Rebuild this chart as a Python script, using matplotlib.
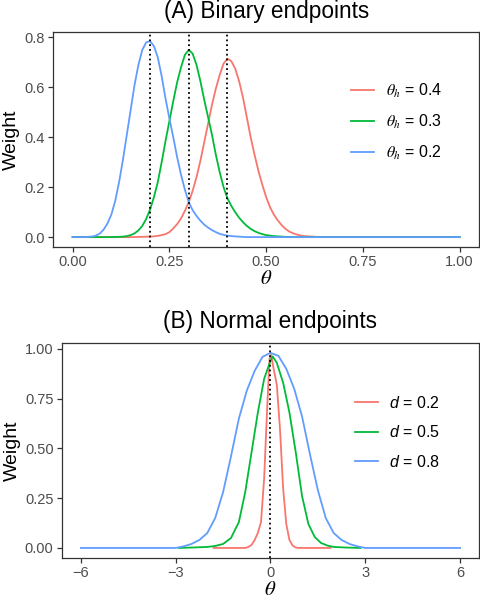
import matplotlib
matplotlib.use("Agg")
import matplotlib.pyplot as plt
import numpy as np

plt.rcParams['font.family'] = ['Liberation Sans', 'DejaVu Sans']
plt.rcParams['mathtext.fontset'] = 'custom'
plt.rcParams['mathtext.rm'] = 'Liberation Sans'
plt.rcParams['mathtext.it'] = 'Liberation Sans:italic'
plt.rcParams['mathtext.bf'] = 'Liberation Sans:bold'

# ---------------- Panel A data (binary endpoints) ----------------
theta_a = list(np.round(np.arange(0, 71) * 0.01, 2)) + [1.0]
w_a_04 = ([0] * 17 +
          [0.001, 0.001, 0.002, 0.002, 0.003, 0.005, 0.008, 0.012, 0.02, 0.035,
           0.052, 0.075, 0.105, 0.14, 0.185, 0.24, 0.305, 0.38, 0.455, 0.53,
           0.595, 0.65, 0.695, 0.715, 0.705, 0.675, 0.625, 0.56, 0.48, 0.40,
           0.33, 0.265, 0.21, 0.16, 0.12, 0.09, 0.067, 0.048, 0.033, 0.022,
           0.015, 0.01, 0.006, 0.004, 0.003, 0.002, 0.001, 0.001] +
          [0] * 6 + [0])
w_a_03 = ([0] * 11 +
          [0.001, 0.001, 0.002, 0.004, 0.008, 0.015, 0.027, 0.045, 0.073, 0.11,
           0.16, 0.22, 0.30, 0.385, 0.465, 0.545, 0.62, 0.68, 0.73, 0.75,
           0.735, 0.69, 0.625, 0.55, 0.48, 0.41, 0.33, 0.26, 0.20, 0.155,
           0.125, 0.10, 0.078, 0.06, 0.045, 0.033, 0.024, 0.017, 0.012, 0.008,
           0.006, 0.004, 0.003, 0.002, 0.001, 0.001] +
          [0] * 14 + [0])
w_a_02 = ([0, 0, 0, 0,
           0.001, 0.002, 0.006, 0.014, 0.03, 0.055, 0.09, 0.145, 0.22, 0.31,
           0.41, 0.51, 0.61, 0.69, 0.75, 0.78, 0.785, 0.765, 0.72, 0.645,
           0.555, 0.475, 0.40, 0.32, 0.25, 0.19, 0.14, 0.108, 0.085, 0.066,
           0.05, 0.038, 0.028, 0.02, 0.013, 0.009, 0.006, 0.004, 0.003, 0.002,
           0.001] +
          [0] * 26 + [0])
labels_a = [r'$\theta_h$ = 0.4', r'$\theta_h$ = 0.3', r'$\theta_h$ = 0.2']
vlines_a = [0.2, 0.3, 0.4]
xticks_a = [0.00, 0.25, 0.50, 0.75, 1.00]
xticklabels_a = ['0.00', '0.25', '0.50', '0.75', '1.00']
yticks_a = [0.0, 0.2, 0.4, 0.6, 0.8]
yticklabels_a = ['0.0', '0.2', '0.4', '0.6', '0.8']

# ---------------- Panel B data (normal endpoints) ----------------
x_b_02 = [-1.8, -0.8, -0.7, -0.6, -0.5, -0.4, -0.3, -0.2, -0.1, -0.03, 0.02, 0.1, 0.2,
          0.3, 0.4, 0.5, 0.6, 0.7, 0.8, 0.9, 1.9]
w_b_02 = [0, 0, 0.005, 0.015, 0.04, 0.075, 0.13, 0.35, 0.72, 0.95, 0.97, 0.9, 0.82,
          0.6, 0.3, 0.12, 0.04, 0.012, 0.002, 0, 0]
x_b_05 = [-2.9, -2.5, -2.0, -1.75, -1.5, -1.25, -1.0, -0.8, -0.6, -0.4, -0.2, 0.0, 0.07,
          0.2, 0.4, 0.6, 0.8, 1.0, 1.2, 1.4, 1.6, 1.8, 2.0, 2.4, 2.85]
w_b_05 = [0, 0.002, 0.005, 0.01, 0.02, 0.05, 0.13, 0.28, 0.48, 0.68, 0.85, 0.94, 0.962,
          0.93, 0.83, 0.68, 0.48, 0.26, 0.12, 0.055, 0.025, 0.012, 0.005, 0.002, 0]
x_b_08 = [-6, -3.0, -2.9, -2.75, -2.5, -2.25, -2.0, -1.75, -1.5, -1.25, -1.0, -0.75, -0.5,
          -0.25, 0, 0.25, 0.5, 0.75, 1.0, 1.25, 1.5, 1.75, 2.0, 2.25, 2.5, 2.75, 2.9, 3.0, 6]
w_b_08 = [0, 0, 0.003, 0.008, 0.02, 0.04, 0.075, 0.15, 0.28, 0.46, 0.65, 0.79, 0.89,
          0.96, 0.98, 0.965, 0.90, 0.80, 0.66, 0.47, 0.29, 0.15, 0.075, 0.04, 0.02, 0.008,
          0.003, 0, 0]
labels_b = [r'$d$ = 0.2', r'$d$ = 0.5', r'$d$ = 0.8']
vlines_b = [0.0]
xticks_b = [-6, -3, 0, 3, 6]
xticklabels_b = ['\u22126', '\u22123', '0', '3', '6']
yticks_b = [0.00, 0.25, 0.50, 0.75, 1.00]
yticklabels_b = ['0.00', '0.25', '0.50', '0.75', '1.00']

colors = ['#F8766D', '#00BA38', '#619CFF']
frame_col = '#333333'
tick_col = '#4D4D4D'

fig = plt.figure(figsize=(4.8, 6), dpi=100)
axA = fig.add_axes([0.111, 0.589, 0.887, 0.357])
axB = fig.add_axes([0.129, 0.0705, 0.869, 0.358])


def style(ax):
    for s in ax.spines.values():
        s.set_color(frame_col)
        s.set_linewidth(0.9)
    ax.tick_params(colors=frame_col, labelcolor=tick_col, labelsize=10.5,
                   length=3.5, width=0.9, pad=2.5)
    ax.set_ylabel('Weight', fontsize=14, color='black', labelpad=3)
    xl = ax.set_xlabel(r'$\theta$', fontsize=15, color='black', labelpad=0)
    xl.set_math_fontfamily('stix')


# Panel A
for ys, c, lab in zip([w_a_04, w_a_03, w_a_02], colors, labels_a):
    axA.plot(theta_a, ys, color=c, lw=1.3, label=lab)
for v in vlines_a:
    axA.axvline(v, color='black', ls=':', lw=1.3)
axA.set_xlim(-0.05, 1.05)
axA.set_ylim(-0.038, 0.82)
axA.set_xticks(xticks_a)
axA.set_xticklabels(xticklabels_a)
axA.set_yticks(yticks_a)
axA.set_yticklabels(yticklabels_a)
style(axA)
axA.set_title('(A) Binary endpoints', fontsize=16.3, pad=10.5)
legA = axA.legend(loc='center left', bbox_to_anchor=(0.70, 0.582), frameon=False,
                  fontsize=11.5, handlelength=1.45, handletextpad=0.7, labelspacing=0.8,
                  borderpad=0, borderaxespad=0)
for t in legA.get_texts():
    t.set_math_fontfamily('stix')

# Panel B
for xs, ys, c, lab in zip([x_b_02, x_b_05, x_b_08], [w_b_02, w_b_05, w_b_08], colors, labels_b):
    axB.plot(xs, ys, color=c, lw=1.3, label=lab)
for v in vlines_b:
    axB.axvline(v, color='black', ls=':', lw=1.3)
axB.set_xlim(-6.6, 6.6)
axB.set_ylim(-0.049, 1.03)
axB.set_xticks(xticks_b)
axB.set_xticklabels(xticklabels_b)
axB.set_yticks(yticks_b)
axB.set_yticklabels(yticklabels_b)
style(axB)
axB.set_title('(B) Normal endpoints', fontsize=16.3, pad=10.5)
legB = axB.legend(loc='center left', bbox_to_anchor=(0.7026, 0.583), frameon=False,
                  fontsize=11.5, handlelength=1.45, handletextpad=0.7, labelspacing=0.85,
                  borderpad=0, borderaxespad=0)

fig.savefig('out.png', dpi=100)
